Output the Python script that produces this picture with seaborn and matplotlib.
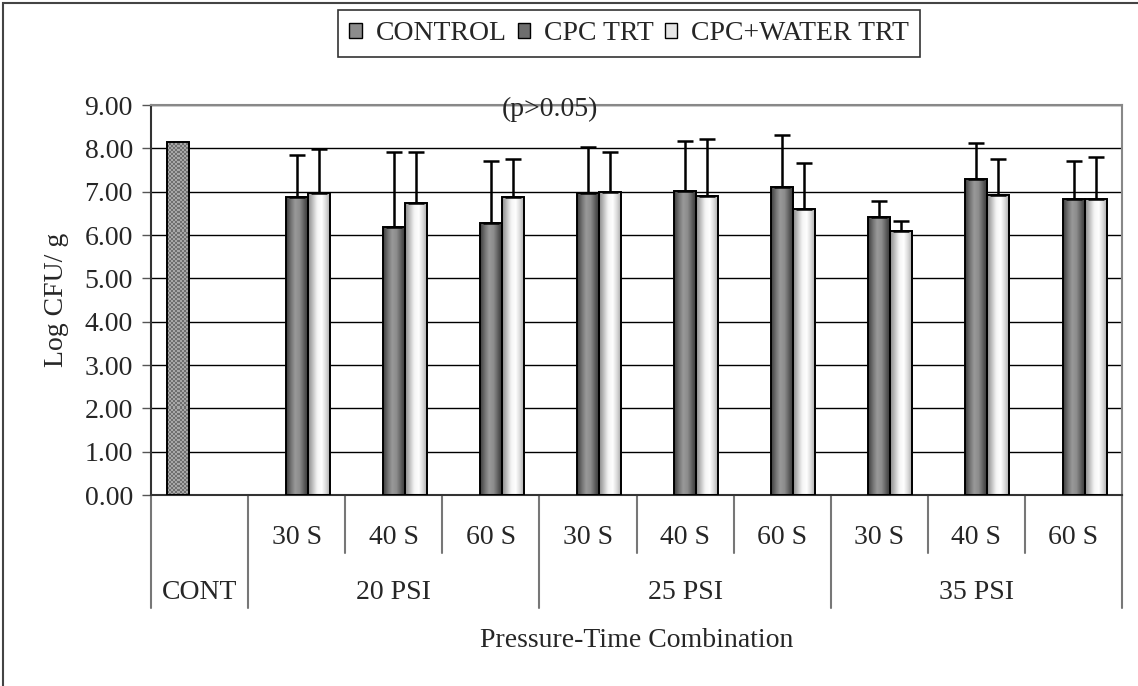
import pandas as pd
import seaborn as sns
import matplotlib.pyplot as plt
import numpy as np
from matplotlib.colors import LinearSegmentedColormap
from matplotlib.patches import Patch, Rectangle
from matplotlib.transforms import blended_transform_factory

# Data
categories = ['CONT', '20-30', '20-40', '20-60', '25-30', '25-40', '25-60', '35-30', '35-40', '35-60']
time_labels = ['', '30 S', '40 S', '60 S', '30 S', '40 S', '60 S', '30 S', '40 S', '60 S']
pressure_labels = ['CONT', '20 PSI', '25 PSI', '35 PSI']
pressure_spans = [(0, 0), (1, 3), (4, 6), (7, 9)]
series = ['CONTROL', 'CPC TRT', 'CPC+WATER TRT']

control_vals = [8.15]
control_err = [0.0]
cpc_vals = [6.87, 6.18, 6.27, 6.96, 7.01, 7.10, 6.41, 7.29, 6.82]
cpc_err = [0.97, 1.74, 1.43, 1.07, 1.16, 1.20, 0.38, 0.83, 0.88]
water_vals = [6.96, 6.73, 6.87, 7.00, 6.91, 6.59, 6.09, 6.92, 6.82]
water_err = [1.02, 1.19, 0.88, 0.92, 1.31, 1.07, 0.23, 0.83, 0.97]

df = pd.concat([
    pd.DataFrame({'cat': categories[:1], 'series': series[0], 'value': control_vals, 'err': control_err}),
    pd.DataFrame({'cat': categories[1:], 'series': series[1], 'value': cpc_vals, 'err': cpc_err}),
    pd.DataFrame({'cat': categories[1:], 'series': series[2], 'value': water_vals, 'err': water_err}),
], ignore_index=True)

FS = 20
sns.set_theme(style='white')
plt.rcParams['font.family'] = ['Liberation Serif', 'DejaVu Serif']
plt.rcParams['font.size'] = FS

fig = plt.figure(figsize=(11.38, 6.86), dpi=100)
ax = fig.add_axes([0.1327, 0.2784, 0.8533, 0.5685])

sns.barplot(data=df, x='cat', y='value', hue='series', order=categories, hue_order=series,
            width=0.68, errorbar=None, edgecolor='black', linewidth=1.4,
            palette=['#8c8c8c', '#7a7a7a', '#e0e0e0'], legend=False, ax=ax)

ax.set_ylim(0, 9)
ax.set_xlim(-0.5, len(categories) - 0.5)

# bar shading: cylinder-like gradients for the treatments, fine checker for control
cmaps = {
    'CPC TRT': LinearSegmentedColormap.from_list('cpc', ['#3c3c3c', '#707070', '#999999', '#8c8c8c', '#5c5c5c', '#303030']),
    'CPC+WATER TRT': LinearSegmentedColormap.from_list('wat', ['#8a8a8a', '#c0c0c0', '#f4f4f4', '#ffffff', '#d8d8d8', '#a0a0a0']),
}
offsets = {'CONTROL': -0.2267, 'CPC TRT': 0.0, 'CPC+WATER TRT': 0.2267}
grad = np.linspace(0, 1, 64).reshape(1, -1)
checker_cmap = LinearSegmentedColormap.from_list('chk', ['#6f6f6f', '#a8a8a8'])

for p in list(ax.patches):
    if p.get_height() == 0 or np.isnan(p.get_height()):
        continue
    cx = p.get_x() + p.get_width() / 2
    ci = int(round(cx))
    s = min(offsets, key=lambda k: abs(cx - ci - offsets[k]))
    row = df[(df['cat'] == categories[ci]) & (df['series'] == s)].iloc[0]
    ext = [p.get_x(), p.get_x() + p.get_width(), 0, p.get_height()]
    if s in cmaps:
        im = ax.imshow(grad, extent=ext, aspect='auto', cmap=cmaps[s], zorder=2.5,
                       interpolation='bilinear')
    else:
        ny, nx = 176, 11
        chk = (np.add.outer(np.arange(ny), np.arange(nx)) % 2).astype(float)
        im = ax.imshow(chk, extent=ext, aspect='auto', cmap=checker_cmap, zorder=2.5,
                       interpolation='nearest')
    im.set_clip_path(p)
    p.set_facecolor('none')
    p.set_zorder(3)
    if row['err'] > 0:
        ax.errorbar(cx, row['value'], yerr=[[0], [row['err']]], fmt='none', ecolor='black',
                    elinewidth=1.8, capsize=5.5, capthick=1.8, zorder=4)

ax.set_ylim(0, 9)
ax.set_xlim(-0.5, len(categories) - 0.5)
ax.set_aspect('auto')

# grid and axes styling
ax.set_yticks(np.arange(0, 10, 1))
ax.set_yticklabels([f'{v:.2f}' for v in np.arange(0, 10, 1)])
ax.yaxis.grid(True, color='black', linewidth=1)
ax.set_axisbelow(True)
ax.tick_params(axis='y', left=True, length=6.5, width=1, color='#555555', labelsize=FS, pad=6.5)
ax.tick_params(axis='x', bottom=False, labelbottom=False)
for side in ['top', 'right']:
    ax.spines[side].set_color('#888888')
    ax.spines[side].set_linewidth(1.5)
for side in ['left', 'bottom']:
    ax.spines[side].set_color('#333333')
    ax.spines[side].set_linewidth(1.5)
ax.set_xlabel('')
ax.set_ylabel('Log CFU/ g', fontsize=FS, labelpad=11)

# two-level category table under the axis
tr = blended_transform_factory(ax.transData, ax.transAxes)
for i, lab in enumerate(time_labels):
    if lab:
        ax.text(i, -0.108, lab, transform=tr, ha='center', va='center', fontsize=FS)
group_edges = sorted({s - 0.5 for s, e in pressure_spans} | {pressure_spans[-1][1] + 0.5})
for i in range(len(categories) + 1):
    x = i - 0.5
    y_end = -0.29 if x in group_edges else -0.149
    ax.plot([x, x], [0, y_end], transform=tr, color='#777777', linewidth=1.5, clip_on=False)
for lab, (s, e) in zip(pressure_labels, pressure_spans):
    ax.text((s + e) / 2, -0.249, lab, transform=tr, ha='center', va='center', fontsize=FS)
ax.text(0.5, -0.374, 'Pressure-Time Combination', transform=ax.transAxes,
        ha='center', va='center', fontsize=FS)

ax.text(0.411, 0.99, '(p>0.05)', transform=ax.transAxes, ha='center', va='center', fontsize=FS)

handles = [Patch(facecolor='#8c8c8c', edgecolor='black', label=series[0]),
           Patch(facecolor='#6e6e6e', edgecolor='black', label=series[1]),
           Patch(facecolor='#e6e6e6', edgecolor='black', label=series[2])]
leg = fig.legend(handles=handles, loc='upper left', bbox_to_anchor=(338 / 1138, 1 - 10 / 686), ncol=3,
                 frameon=True, fancybox=False, edgecolor='black', fontsize=FS,
                 handlelength=0.45, handleheight=0.45, handletextpad=0.5, columnspacing=0.4,
                 borderpad=0.4, borderaxespad=0)
leg.get_frame().set_linewidth(1.2)

# outer chart frame (only left and top edges fall inside the picture)
fig.patches.append(Rectangle((0.003, -0.05), 1.1, 1.0456, transform=fig.transFigure,
                             fill=False, edgecolor='#444444', linewidth=1.5))

fig.savefig('out.png', dpi=100)
